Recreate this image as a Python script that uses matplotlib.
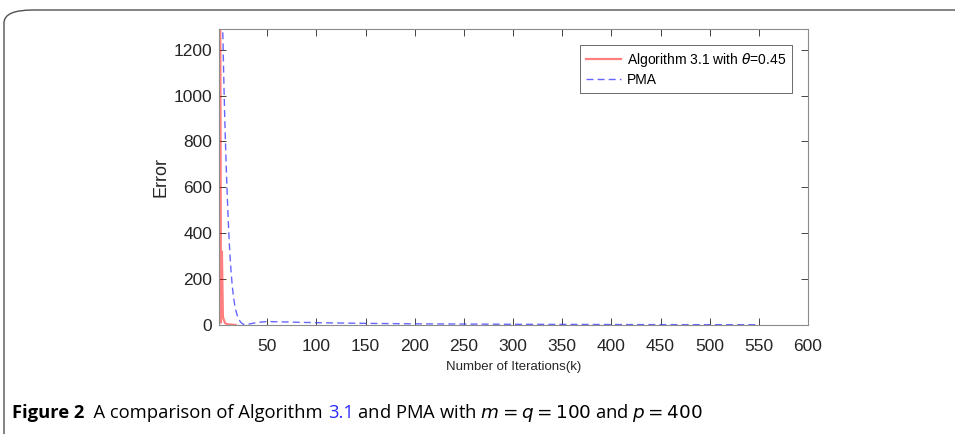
import matplotlib.pyplot as plt
from matplotlib.patches import FancyBboxPatch
import numpy as np

plt.rcParams['font.family'] = ['Liberation Sans', 'DejaVu Sans']

# Algorithm 3.1 (theta = 0.45)
alg_k = [1, 2, 3, 4, 5, 6, 7, 8, 9, 10, 11, 12, 13, 14, 15, 16, 17, 18]
alg_err = [3000, 2000, 10, 320, 35, 22, 10, 6, 4, 3, 2.5, 2, 1.6, 1.3, 1.0, 0.8, 0.6, 0.5]

# PMA
pma_k = [1, 2, 3, 4, 5, 6, 7, 8, 9, 10, 11, 12, 13, 14, 15, 16, 17, 18, 19, 20,
         21, 22, 23, 24, 25, 26, 28, 30, 35, 40, 50, 60, 80, 100, 150, 200,
         250, 300, 350, 400, 450, 500, 550]
pma_err = [5000, 3000, 2000, 1500, 1250, 1050, 880, 740, 610, 500, 400, 315, 250,
           195, 150, 115, 88, 66, 50, 37, 27, 19, 13, 8, 5, 3, 2, 3, 7, 11, 15,
           14, 12, 10, 7, 5, 4, 3, 2.5, 2, 1.5, 1.2, 1]

xticks = [50, 100, 150, 200, 250, 300, 350, 400, 450, 500, 550, 600]
yticks = [0, 200, 400, 600, 800, 1000, 1200]

fig = plt.figure(figsize=(9.55, 4.34), dpi=100)
ax = fig.add_axes([0.2293, 0.2512, 0.6168, 0.682])

ax.plot(alg_k, alg_err, color=(1, 0, 0, 0.5), lw=1.6, label=r'Algorithm 3.1 with $\theta$=0.45')
ax.plot(pma_k, pma_err, color=(0.2, 0.2, 1, 0.75), lw=1.0, ls=(0, (5, 3)), label='PMA')

ax.set_xlim(1, 600)
ax.set_ylim(0, 1290)
ax.set_xticks(xticks)
ax.set_yticks(yticks)
ax.tick_params(direction='in', top=True, right=True, labelsize=12.5, colors='#262626',
               length=5, width=0.6, pad=5)
ax.tick_params(axis='x', pad=10)
for s in ax.spines.values():
    s.set_color('#8c8c8c')
    s.set_linewidth(0.8)
ax.set_xlabel('Number of Iterations(k)', fontsize=9.5, color='#262626', labelpad=5)
ax.set_ylabel('Error', fontsize=13, color='#262626', labelpad=3)

leg = ax.legend(loc='upper right', fontsize=10, frameon=True, fancybox=False,
                borderaxespad=1.15, handlelength=2.5, labelspacing=0.25,
                borderpad=0.45, handletextpad=0.4)
leg.get_frame().set_edgecolor('#262626')
leg.get_frame().set_linewidth(0.6)

# page frame with rounded corner
frame = FancyBboxPatch((4 / 955, -0.5), 1.5, 0.5 + (434 - 10) / 434,
                       boxstyle='round,pad=0,rounding_size=0.03',
                       transform=fig.transFigure, fill=False,
                       edgecolor='#505050', lw=1.0, clip_on=False)
fig.patches.append(frame)

# caption
fig.canvas.draw()
r = fig.canvas.get_renderer()
x = 12 / 955
y = 1 - 413 / 434
parts = [('Figure 2', 'bold', 'black'), ('  A comparison of Algorithm ', 'normal', 'black'),
         ('3.1', 'normal', '#2a2aff'), (' and PMA with $m = q = 100$ and $p = 400$', 'normal', 'black')]
for txt, wt, col in parts:
    t = fig.text(x, y, txt, fontsize=13.2, fontweight=wt, color=col, va='center',
                 family=['Open Sans', 'DejaVu Sans'])
    bb = t.get_window_extent(renderer=r)
    x += bb.width / fig.bbox.width

fig.savefig('out.png', dpi=100)
